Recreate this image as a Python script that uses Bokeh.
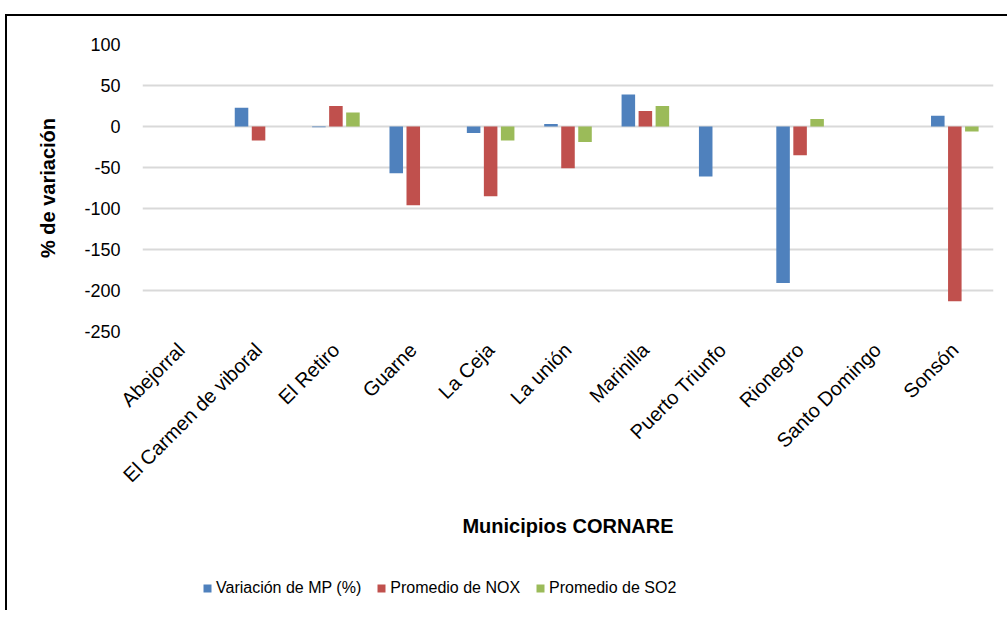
import math
from bokeh.plotting import figure
from bokeh.layouts import column
from bokeh.models import ColumnDataSource, Range1d, FactorRange, FixedTicker, Legend
from bokeh.transform import dodge
from bokeh.embed import file_html
from bokeh.resources import INLINE

categories = ["Abejorral", "El Carmen de viboral", "El Retiro", "Guarne", "La Ceja",
              "La unión", "Marinilla", "Puerto Triunfo", "Rionegro", "Santo Domingo", "Sonsón"]
mp = [0, 23, -1, -57, -8, 3, 39, -61, -191, 0, 13]
nox = [0, -17, 25, -96, -85, -51, 19, 0, -35, 0, -213]
so2 = [0, 0, 17, 0, -17, -19, 25, 0, 9, 0, -6]
series_names = ["Variación de MP (%)", "Promedio de NOX", "Promedio de SO2"]
y_ticks = [100, 50, 0, -50, -100, -150, -200, -250]

colors = ["#4F81BD", "#C0504D", "#9BBB59"]
FONT = "Liberation Sans"

src = ColumnDataSource(dict(cat=categories, mp=mp, nox=nox, so2=so2))

p = figure(x_range=FactorRange(*categories, range_padding=0), y_range=Range1d(-250, 100),
           width=1000, height=554, output_backend="svg", toolbar_location=None,
           min_border_left=135, min_border_right=14, min_border_top=28, min_border_bottom=239)
p.outline_line_color = None

for i, col in enumerate(["mp", "nox", "so2"]):
    p.vbar(x=dodge("cat", (i - 1) * 0.22, range=p.x_range), top=col, bottom=0, width=0.175,
           source=src, fill_color=colors[i], line_color=None)

p.xgrid.grid_line_color = None
p.ygrid.grid_line_color = "#d9d9d9"
p.ygrid.grid_line_width = 2
p.yaxis.ticker = FixedTicker(ticks=y_ticks)
p.yaxis.major_label_overrides = {v: str(v) for v in y_ticks}

for ax in (p.xaxis[0], p.yaxis[0]):
    ax.axis_line_color = None
    ax.major_tick_line_color = None
    ax.minor_tick_line_color = None
    ax.major_tick_out = 0
    ax.major_tick_in = 0
    ax.major_label_text_font = FONT
    ax.major_label_text_color = "#000000"
    ax.axis_label_text_font = FONT
    ax.axis_label_text_font_style = "bold"
    ax.axis_label_text_color = "#000000"

p.yaxis.major_label_text_font_size = "18px"
p.yaxis.major_label_standoff = 22
p.yaxis.axis_label = "% de variación"
p.yaxis.axis_label_text_font_size = "20px"
p.yaxis.axis_label_standoff = 22

p.xaxis.major_label_orientation = math.pi / 4
p.xaxis.major_label_text_font_size = "20px"
p.xaxis.major_label_standoff = 15
p.xaxis.axis_label = "Municipios CORNARE"
p.xaxis.axis_label_text_font_size = "20px"
p.xaxis.axis_label_standoff = 18

# legend strip
p2 = figure(width=1000, height=40, output_backend="svg", toolbar_location=None,
            x_range=Range1d(0, 1), y_range=Range1d(0, 1),
            min_border_left=0, min_border_right=0, min_border_top=0, min_border_bottom=0)
p2.axis.visible = False
p2.grid.visible = False
p2.outline_line_color = None
items = []
for i, name in enumerate(series_names):
    r = p2.quad(left=[5], right=[6], bottom=[5], top=[6], fill_color=colors[i], line_color=None)
    items.append((name, [r]))

leg = Legend(items=items, orientation="horizontal", location=(60, 13))
leg.label_text_font = FONT
leg.label_text_font_size = "16px"
leg.label_text_color = "#000000"
leg.glyph_width = 10
leg.glyph_height = 10
leg.label_standoff = 4
leg.spacing = 15
leg.padding = 0
leg.margin = 0
leg.border_line_color = None
leg.background_fill_alpha = 0
p2.add_layout(leg, "center")

layout = column(p, p2, spacing=0)
layout.margin = (14, 0, 0, 5)
layout.styles = {"border-top": "2px solid #000000", "border-left": "2px solid #000000"}

open("out.html", "w").write(file_html(layout, INLINE))
